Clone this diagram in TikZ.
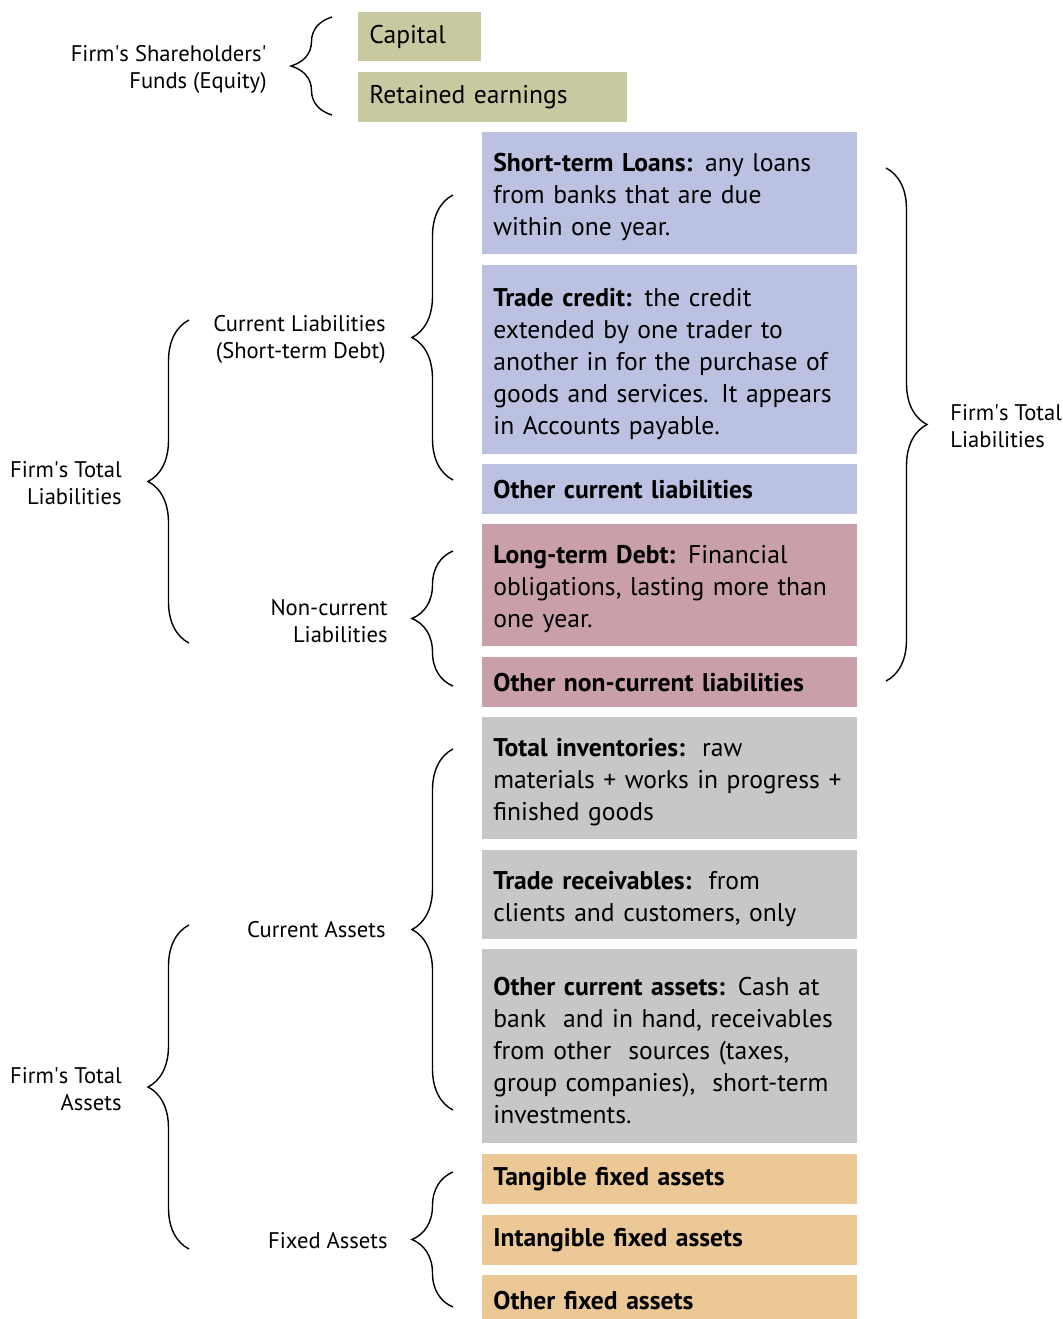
\documentclass[tikz,border=0pt]{standalone}
\usepackage{fontspec}
\setmainfont{PT Sans}
\usetikzlibrary{decorations.pathreplacing}

\definecolor{equityfill}{RGB}{200,201,160}
\definecolor{currentfill}{RGB}{187,194,225}
\definecolor{noncurrentfill}{RGB}{201,160,170}
\definecolor{cassetfill}{RGB}{198,199,201}
\definecolor{fassetfill}{RGB}{235,200,150}

\newcommand{\firms}{Firm\textquotesingle s}

\begin{document}
\begin{tikzpicture}[
  x=0.5pt,
  y=-0.5pt,
  item/.style={
    anchor=north west,
    inner xsep=5.5pt,
    inner ysep=0pt,
    text width=176.5pt,
    align=left,
    font=\fontsize{12.8}{16}\selectfont
  },
  multi/.style={execute at begin node={\rule{0pt}{13pt}}},
  equitybox/.style={item, fill=equityfill},
  currentbox/.style={item, fill=currentfill},
  noncurrentbox/.style={item, fill=noncurrentfill},
  cassetbox/.style={item, fill=cassetfill},
  fassetbox/.style={item, fill=fassetfill},
  group/.style={font=\fontsize{11.3}{13.5}\selectfont, align=right, anchor=east, inner sep=0pt},
  groupright/.style={font=\fontsize{11.3}{13.5}\selectfont, align=left, anchor=west, inner sep=0pt},
  bracket/.style={draw=black, line width=0.7pt,
    decorate, decoration={brace, amplitude=20.5pt}}
]

\useasboundingbox (0,0) rectangle (1063,1319);

% Equity
\node[equitybox, text width=50.5pt, minimum height=24.5pt] (cap) at (358,12) {Capital};
\node[equitybox, text width=123.5pt, minimum height=25pt] (ret) at (358,72) {Retained earnings};

% Liabilities
\node[currentbox, multi, minimum height=61pt] (stl) at (482,132)
  {\textbf{Short-term Loans:} any loans\\ from banks that are due\\ within one year.};
\node[currentbox, multi, minimum height=94.5pt] (tc) at (482,265)
  {\textbf{Trade credit:} the credit\\ extended by one trader to\\ another in for the purchase of\\ goods and services. It appears\\ in Accounts payable.};
\node[currentbox, minimum height=25pt] (ocl) at (482,464)
  {\textbf{Other current liabilities}};
\node[noncurrentbox, multi, minimum height=61pt] (ltd) at (482,524)
  {\textbf{Long-term Debt:} Financial\\ obligations, lasting more than\\ one year.};
\node[noncurrentbox, minimum height=25pt] (oncl) at (482,657)
  {\textbf{Other non-current liabilities}};

% Assets
\node[cassetbox, multi, minimum height=61pt] (inv) at (482,717)
  {\textbf{Total inventories:}\ \ raw\\ materials + works in progress +\\ finished goods};
\node[cassetbox, multi, minimum height=44.5pt] (trec) at (482,850)
  {\textbf{Trade receivables:}\ \ from\\ clients and customers, only};
\node[cassetbox, multi, minimum height=97pt] (oca) at (482,949)
  {\textbf{Other current assets:} Cash at\\ bank\ \ and in hand, receivables\\ from other\ \ sources (taxes,\\ group companies),\ \ short-term\\ investments.};
\node[fassetbox, minimum height=25pt] (tfa) at (482,1154)
  {\textbf{Tangible fixed assets}};
\node[fassetbox, minimum height=25pt] (ifa) at (482,1215)
  {\textbf{Intangible fixed assets}};
\node[fassetbox, minimum height=25pt] (ofa) at (482,1275)
  {\textbf{Other fixed assets}};

% Brace ends
\coordinate (eq-top) at (332,17);
\coordinate (eq-bot) at (332,115);
\coordinate (cl-top) at (453,195);
\coordinate (cl-bot) at (453,480);
\coordinate (ncl-top) at (453,551);
\coordinate (ncl-bot) at (453,686);
\coordinate (tl-top) at (189,320);
\coordinate (tl-bot) at (189,643);
\coordinate (rtl-top) at (886,168);
\coordinate (rtl-bot) at (886,681);
\coordinate (ca-top) at (453,749);
\coordinate (ca-bot) at (453,1110);
\coordinate (fa-top) at (453,1172);
\coordinate (fa-bot) at (453,1307);
\coordinate (ta-top) at (189,925);
\coordinate (ta-bot) at (189,1249);

\draw[bracket] (eq-bot) -- (eq-top);
\draw[bracket] (cl-bot) -- (cl-top);
\draw[bracket] (ncl-bot) -- (ncl-top);
\draw[bracket] (tl-bot) -- (tl-top);
\draw[bracket] (rtl-top) -- (rtl-bot);
\draw[bracket] (ca-bot) -- (ca-top);
\draw[bracket] (fa-bot) -- (fa-top);
\draw[bracket] (ta-bot) -- (ta-top);

% Group labels
\node[group] (eq-lbl) at (267,69) {\firms{} Shareholders\textquotesingle\\ Funds (Equity)};
\node[group] (cl-lbl) at (386,339) {Current Liabilities\\ (Short-term Debt)};
\node[group] (ncl-lbl) at (388,621) {Non-current\\ Liabilities};
\node[group] (tl-lbl) at (122,483) {\firms{} Total\\ Liabilities};
\node[groupright] (rtl-lbl) at (950,426) {\firms{} Total\\ Liabilities};
\node[group] (ca-lbl) at (386,930) {Current Assets};
\node[group] (fa-lbl) at (388,1241) {Fixed Assets};
\node[group] (ta-lbl) at (122,1089) {\firms{} Total\\ Assets};

\end{tikzpicture}
\end{document}
